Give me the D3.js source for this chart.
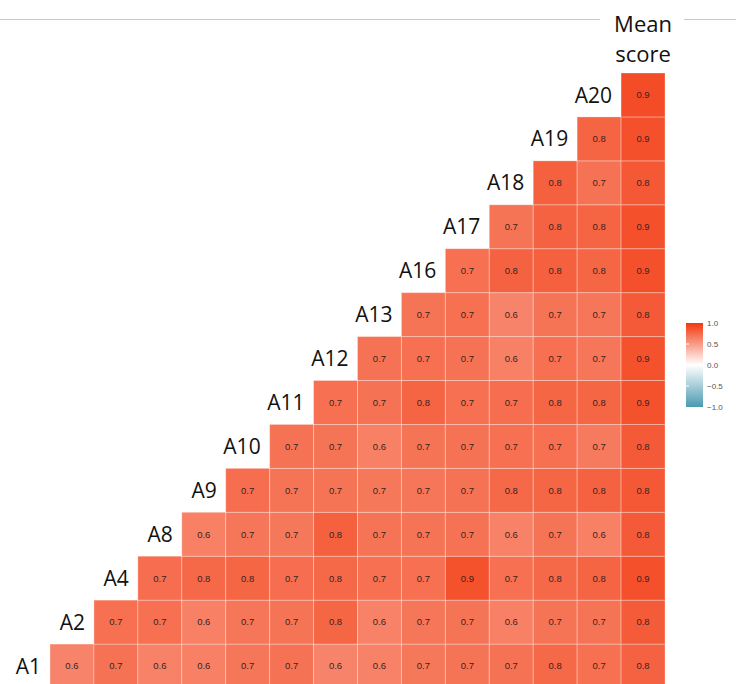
<!DOCTYPE html>
<html>
<head>
<meta charset="utf-8">
<script src="https://cdn.jsdelivr.net/npm/d3@7"></script>
<style>
  body { margin: 0; background: #fff; }
  svg { display: block; }
</style>
</head>
<body>
<svg id="chart" width="736" height="684"></svg>
<script>
// variables, bottom row first
var row_vars = ["A1", "A2", "A4", "A8", "A9", "A10", "A11", "A12", "A13", "A16", "A17", "A18", "A19", "A20"];
var col_vars = ["A2", "A4", "A8", "A9", "A10", "A11", "A12", "A13", "A16", "A17", "A18", "A19", "A20", "Mean score"];

// correlation of each row with the columns to its right (col index >= row index)
var r_A1  = [0.62, 0.71, 0.63, 0.64, 0.69, 0.71, 0.62, 0.63, 0.68, 0.70, 0.71, 0.76, 0.72, 0.79];
var r_A2  = [0.72, 0.72, 0.64, 0.69, 0.70, 0.77, 0.63, 0.69, 0.70, 0.64, 0.70, 0.70, 0.82];
var r_A4  = [0.73, 0.76, 0.77, 0.73, 0.76, 0.72, 0.72, 0.87, 0.72, 0.76, 0.78, 0.88];
var r_A8  = [0.64, 0.69, 0.68, 0.80, 0.70, 0.70, 0.71, 0.63, 0.70, 0.64, 0.83];
var r_A9  = [0.73, 0.70, 0.70, 0.68, 0.69, 0.71, 0.76, 0.77, 0.79, 0.84];
var r_A10 = [0.71, 0.70, 0.64, 0.70, 0.71, 0.72, 0.72, 0.67, 0.83];
var r_A11 = [0.72, 0.71, 0.78, 0.72, 0.73, 0.77, 0.77, 0.87];
var r_A12 = [0.71, 0.72, 0.71, 0.64, 0.72, 0.69, 0.87];
var r_A13 = [0.70, 0.72, 0.62, 0.70, 0.69, 0.83];
var r_A16 = [0.72, 0.79, 0.80, 0.77, 0.88];
var r_A17 = [0.70, 0.79, 0.78, 0.88];
var r_A18 = [0.80, 0.71, 0.84];
var r_A19 = [0.78, 0.88];
var r_A20 = [0.90];

var row_values = [r_A1, r_A2, r_A4, r_A8, r_A9, r_A10, r_A11, r_A12, r_A13, r_A16, r_A17, r_A18, r_A19, r_A20];

var legend_ticks = [-1, -0.5, 0, 0.5, 1];

var svg = d3.select("#chart");

var grid = {left: 50, right: 665, top: 73, bottom: 688};

var x = d3.scaleBand()
    .domain(col_vars)
    .range([grid.left, grid.right]);
var y = d3.scaleBand()
    .domain(row_vars.slice().reverse())
    .range([grid.top, grid.bottom]);

var color = d3.scaleLinear()
    .domain([-1, 0, 1])
    .range(["#4a9ab0", "#ffffff", "#f2380e"]);

// flatten the triangle into cells
var cells = [];
row_values.forEach(function(vals, i) {
  vals.forEach(function(v, j) {
    cells.push({row: row_vars[i], col: col_vars[i + j], value: v});
  });
});

// rule along the top, broken by the header label
svg.append("line")
    .attr("x1", 0).attr("x2", 736)
    .attr("y1", 19.5).attr("y2", 19.5)
    .attr("stroke", "#c8c8c8")
    .attr("stroke-width", 1);

svg.append("rect")
    .attr("x", 600).attr("y", 3)
    .attr("width", 84).attr("height", 66)
    .attr("fill", "#fff");

var header = svg.append("text")
    .attr("x", x("Mean score") + x.bandwidth() / 2)
    .attr("text-anchor", "middle")
    .style("font-family", "'Open Sans', sans-serif")
    .style("font-size", "22px")
    .attr("fill", "#111");
header.append("tspan").attr("x", x("Mean score") + x.bandwidth() / 2).attr("y", 32).text("Mean");
header.append("tspan").attr("x", x("Mean score") + x.bandwidth() / 2).attr("y", 62).text("score");

var cell_g = svg.append("g").attr("class", "cells");

cell_g.selectAll("rect")
    .data(cells)
  .enter().append("rect")
    .attr("x", d => x(d.col))
    .attr("y", d => y(d.row))
    .attr("width", x.bandwidth())
    .attr("height", y.bandwidth())
    .attr("fill", d => color(d.value))
    .attr("stroke", "#fff")
    .attr("stroke-opacity", 0.3)
    .attr("stroke-width", 1);

cell_g.selectAll("text")
    .data(cells)
  .enter().append("text")
    .attr("x", d => x(d.col) + x.bandwidth() / 2)
    .attr("y", d => y(d.row) + y.bandwidth() / 2)
    .attr("dy", "0.35em")
    .attr("text-anchor", "middle")
    .style("font-family", "'Liberation Sans', Arial, sans-serif")
    .style("font-size", "9.5px")
    .attr("fill", "#3b2320")
    .text(d => d.value.toFixed(1));

// diagonal row labels, just left of each row's first cell
svg.append("g").attr("class", "row_labels")
  .selectAll("text")
    .data(row_vars)
  .enter().append("text")
    .attr("x", (d, i) => x(col_vars[i]) - 9)
    .attr("y", d => y(d) + y.bandwidth() / 2)
    .attr("dy", "0.36em")
    .attr("text-anchor", "end")
    .style("font-family", "'Open Sans', sans-serif")
    .style("font-size", "21px")
    .attr("fill", "#111")
    .text(d => d);

// colour bar legend
var leg_y = d3.scaleLinear().domain([-1, 1]).range([407, 323]);
var leg_x = 686, leg_w = 17;

var grad = svg.append("defs").append("linearGradient")
    .attr("id", "corr_grad")
    .attr("x1", "0%").attr("x2", "0%")
    .attr("y1", "100%").attr("y2", "0%");
d3.range(0, 1.01, 0.1).forEach(function(t) {
  grad.append("stop")
      .attr("offset", (t * 100) + "%")
      .attr("stop-color", color(-1 + 2 * t));
});

svg.append("rect")
    .attr("x", leg_x).attr("y", leg_y(1))
    .attr("width", leg_w).attr("height", leg_y(-1) - leg_y(1))
    .attr("fill", "url(#corr_grad)");

svg.append("g").attr("class", "leg_ticks")
  .selectAll("line")
    .data(legend_ticks.slice(1, -1))
  .enter().append("line")
    .attr("x1", leg_x).attr("x2", leg_x + 3)
    .attr("y1", d => leg_y(d)).attr("y2", d => leg_y(d))
    .attr("stroke", "#fff");

var leg_axis = svg.append("g")
    .attr("transform", "translate(" + (leg_x + leg_w) + ",0)")
    .call(d3.axisRight(leg_y).tickValues(legend_ticks).tickSize(0).tickPadding(4).tickFormat(d3.format(".1f")));
leg_axis.select(".domain").remove();
leg_axis.selectAll("text")
    .style("font-family", "'Liberation Sans', Arial, sans-serif")
    .style("font-size", "8px")
    .attr("fill", "#555");
</script>
</body>
</html>
